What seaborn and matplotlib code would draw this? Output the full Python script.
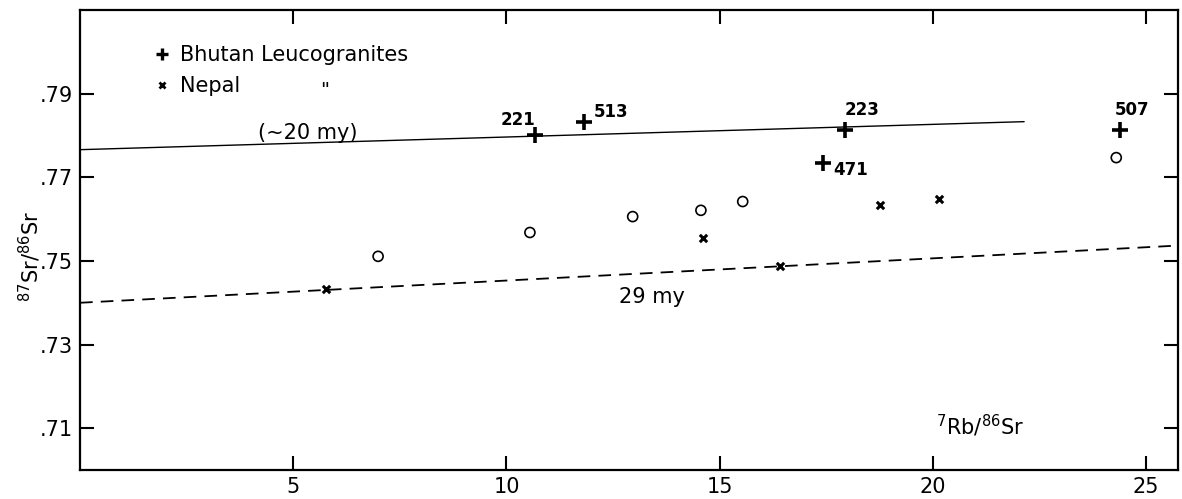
import matplotlib
matplotlib.use("Agg")
import matplotlib.pyplot as plt
import seaborn as sns
import pandas as pd
from matplotlib.lines import Line2D

# Bhutan leucogranites (+) with sample numbers
bhutan_x = [10.67, 11.81, 17.95, 17.43, 24.39]
bhutan_y = [0.7802, 0.7833, 0.7812, 0.7733, 0.7814]
bhutan_ids = ["221", "513", "223", "471", "507"]

# Nepal leucogranites (x)
nepal_x = [5.76, 14.60, 16.42, 18.77, 20.15]
nepal_y = [0.7432, 0.7554, 0.7487, 0.7633, 0.7647]

# open circles
other_x = [6.99, 10.55, 12.96, 14.56, 15.54, 24.30]
other_y = [0.7511, 0.7568, 0.7606, 0.7621, 0.7642, 0.7747]

# reference isochrons
line20_x = [0.0, 22.14]
line20_y = [0.7766, 0.7833]
line29_x = [0.0, 25.8]
line29_y = [0.7400, 0.7537]

xticks = [5, 10, 15, 20, 25]
yticks = [0.71, 0.73, 0.75, 0.77, 0.79]
ytick_labels = [".71", ".73", ".75", ".77", ".79"]

sns.set_style("ticks")
plt.rcParams['font.family'] = ['DejaVu Sans']
for key in ["text.color", "axes.labelcolor", "xtick.color", "ytick.color",
            "axes.edgecolor"]:
    plt.rcParams[key] = "black"

fig = plt.figure(figsize=(11.82, 4.99), dpi=100)
ax = fig.add_axes([0.0677, 0.058, 0.929, 0.922])

bhutan = pd.DataFrame({"x": bhutan_x, "y": bhutan_y})
nepal = pd.DataFrame({"x": nepal_x, "y": nepal_y})
other = pd.DataFrame({"x": other_x, "y": other_y})

sns.lineplot(x=line20_x, y=line20_y, ax=ax, color="black", lw=1.0)
sns.lineplot(x=line29_x, y=line29_y, ax=ax, color="black", lw=1.3)
ax.lines[-1].set_dashes((7, 4.5))

sns.scatterplot(data=bhutan, x="x", y="y", ax=ax, marker="+", s=120,
                color="black", linewidth=2.6)
sns.scatterplot(data=nepal, x="x", y="y", ax=ax, marker="x", s=28,
                color="black", linewidth=2.2)
sns.scatterplot(data=other, x="x", y="y", ax=ax, marker="o", s=52,
                facecolor="none", edgecolor="black", linewidth=1.2)

# sample labels: (dx, dy, ha)
offsets = {"221": (-0.40, 0.0034, "center"), "513": (0.24, 0.0022, "left"),
           "223": (0.40, 0.0050, "center"), "471": (0.24, -0.0015, "left"),
           "507": (0.28, 0.0048, "center")}
for xx, yy, lab in zip(bhutan_x, bhutan_y, bhutan_ids):
    dx, dy, ha = offsets[lab]
    ax.text(xx + dx, yy + dy, lab, fontsize=12, fontweight="bold",
            ha=ha, va="center")

ax.text(5.33, 0.7807, "(~20 my)", fontsize=15, ha="center", va="center")
ax.text(13.4, 0.7413, "29 my", fontsize=15, ha="center", va="center")
ax.text(21.1, 0.7105, "$^{7}$Rb/$^{86}$Sr", fontsize=15, ha="center", va="center")

handles = [Line2D([], [], marker="+", ls="", color="black", ms=9, mew=2.4),
           Line2D([], [], marker="x", ls="", color="black", ms=5, mew=2.0)]
ax.legend(handles, ["Bhutan Leucogranites", "Nepal"], loc="upper left",
          bbox_to_anchor=(0.048, 0.965), frameon=False, fontsize=15,
          handletextpad=0.35, labelspacing=0.55, handlelength=1.0)
ax.text(0.223, 0.826, '"', transform=ax.transAxes, fontsize=14,
        ha="center", va="center")

ax.set_xlim(0, 25.75)
ax.set_ylim(0.70, 0.81)
ax.set_xticks(xticks)
ax.set_xticklabels([str(t) for t in xticks])
ax.set_yticks(yticks)
ax.set_yticklabels(ytick_labels)
ax.tick_params(direction="in", length=10, width=1.5, labelsize=15,
               top=True, right=True, pad=5)
for sp in ax.spines.values():
    sp.set_visible(True)
    sp.set_linewidth(1.6)
ax.set_xlabel("")
ax.set_ylabel("$^{87}$Sr/$^{86}$Sr", fontsize=15)
ax.yaxis.set_label_coords(-0.034, 0.465)

fig.savefig("out.png", dpi=100)
